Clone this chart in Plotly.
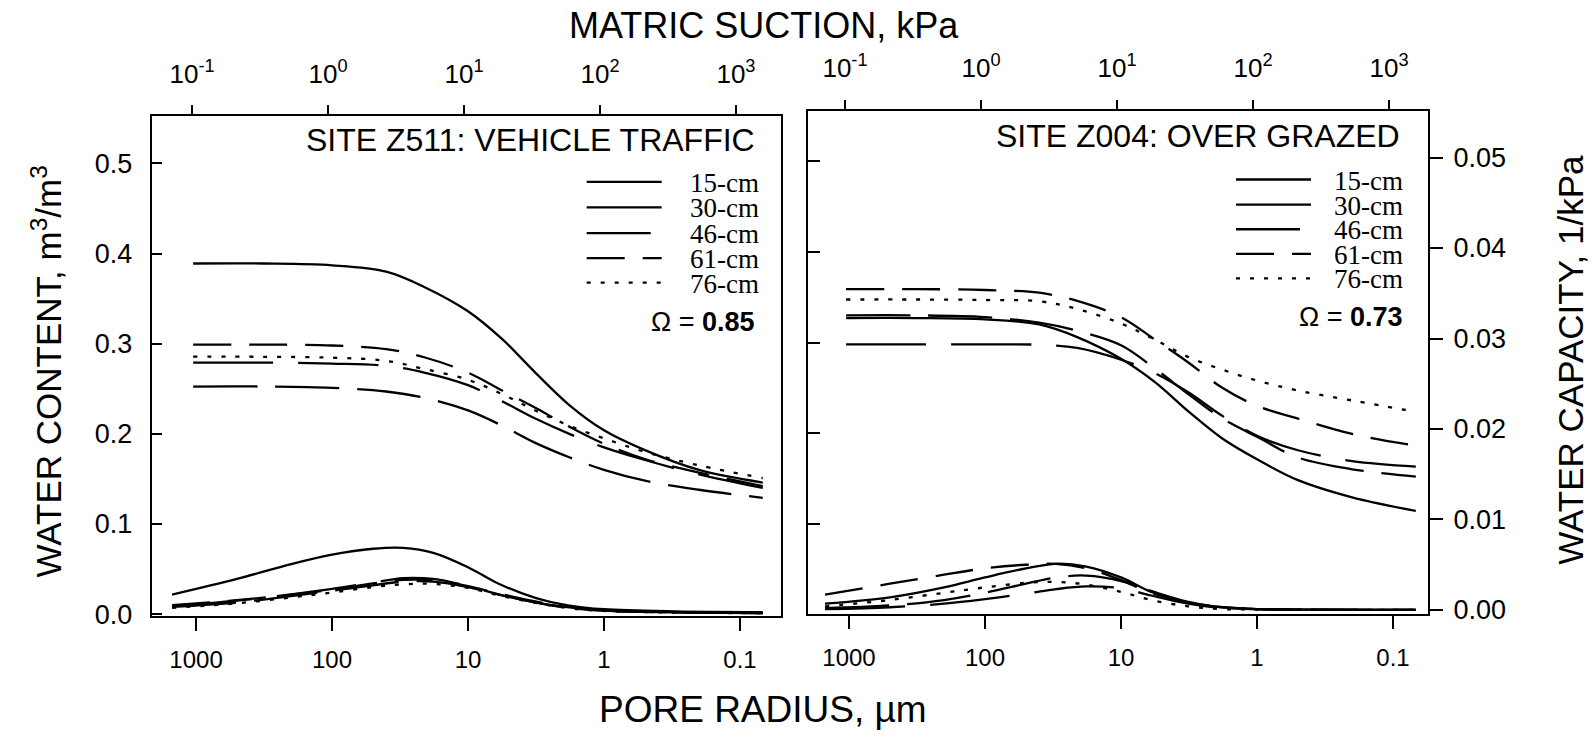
import plotly.graph_objects as go
import math

# ---------------- data ----------------
DEPTHS = ["15-cm", "30-cm", "46-cm", "61-cm", "76-cm"]

# pore radius (um) at which the retention curves were read
RADIUS_WC = [1050, 320, 100, 40, 21, 10, 5.6, 3.2, 1.8, 1.0, 0.5, 0.2, 0.068]
# pore radius (um) at which the water-capacity curves were read
RADIUS_CAP = [1500, 500, 200, 100, 50, 30, 18, 10, 6, 3.2, 1.8, 1.0, 0.3, 0.068]

# Site Z511 - water content (m3/m3)
Z511_WC_15 = [0.389, 0.389, 0.387, 0.380, 0.363, 0.336, 0.305, 0.268, 0.232, 0.204, 0.182, 0.160, 0.146]
Z511_WC_30 = [0.279, 0.279, 0.278, 0.2755, 0.268, 0.254, 0.236, 0.217, 0.200, 0.185, 0.171, 0.155, 0.140]
Z511_WC_46 = [0.2525, 0.2525, 0.251, 0.247, 0.240, 0.226, 0.209, 0.190, 0.174, 0.160, 0.148, 0.138, 0.129]
Z511_WC_61 = [0.299, 0.299, 0.298, 0.294, 0.285, 0.268, 0.248, 0.229, 0.208, 0.189, 0.172, 0.157, 0.142]
Z511_WC_76 = [0.2857, 0.2855, 0.2845, 0.281, 0.272, 0.260, 0.244, 0.226, 0.209, 0.195, 0.180, 0.165, 0.151]

# Site Z511 - water capacity (1/kPa)
Z511_CAP_15 = [0.00216, 0.0039, 0.00555, 0.0066, 0.00725, 0.00735, 0.0068, 0.0052, 0.0034, 0.0018, 0.00095, 0.00054, 0.0003, 0.00022]
Z511_CAP_30 = [0.0009, 0.0015, 0.0022, 0.0028, 0.0035, 0.0040, 0.0039, 0.0031, 0.0022, 0.0013, 0.0007, 0.0004, 0.0002, 0.00012]
Z511_CAP_46 = [0.0008, 0.0013, 0.0020, 0.0026, 0.0032, 0.0036, 0.0036, 0.0030, 0.0022, 0.0013, 0.0007, 0.0004, 0.0002, 0.00012]
Z511_CAP_61 = [0.0010, 0.00155, 0.00215, 0.0027, 0.0034, 0.0038, 0.00375, 0.0031, 0.0023, 0.0014, 0.00075, 0.0004, 0.0002, 0.00012]
Z511_CAP_76 = [0.0007, 0.0012, 0.00185, 0.0024, 0.0030, 0.0033, 0.00335, 0.0029, 0.0021, 0.00125, 0.00065, 0.00035, 0.00018, 0.0001]

# Site Z004 - water content (m3/m3)
Z004_WC_15 = [0.327, 0.327, 0.3255, 0.320, 0.306, 0.282, 0.256, 0.224, 0.194, 0.171, 0.148, 0.129, 0.114]
Z004_WC_30 = [0.298, 0.298, 0.298, 0.2975, 0.294, 0.281, 0.266, 0.245, 0.219, 0.197, 0.181, 0.169, 0.163]
Z004_WC_46 = [0.330, 0.330, 0.328, 0.322, 0.313, 0.297, 0.271, 0.243, 0.216, 0.196, 0.173, 0.160, 0.152]
Z004_WC_61 = [0.359, 0.359, 0.358, 0.355, 0.346, 0.328, 0.303, 0.278, 0.250, 0.230, 0.216, 0.199, 0.186]
Z004_WC_76 = [0.3475, 0.3475, 0.347, 0.3455, 0.337, 0.321, 0.303, 0.284, 0.270, 0.258, 0.247, 0.236, 0.2235]

# Site Z004 - water capacity (1/kPa)
Z004_CAP_15 = [0.0007, 0.0014, 0.0025, 0.0036, 0.0046, 0.0051, 0.0048, 0.0036, 0.0020, 0.0008, 0.0003, 0.0001, 0.00003, 0.0]
Z004_CAP_30 = [0.0001, 0.0003, 0.0007, 0.0012, 0.0018, 0.0023, 0.0026, 0.0024, 0.0016, 0.0007, 0.0002, 0.0001, 0.00002, 0.0]
Z004_CAP_46 = [0.0002, 0.0005, 0.0011, 0.0019, 0.0029, 0.0036, 0.0038, 0.0032, 0.0021, 0.0009, 0.0003, 0.0001, 0.00003, 0.0]
Z004_CAP_61 = [0.0017, 0.0029, 0.0039, 0.0046, 0.0050, 0.0051, 0.0046, 0.0033, 0.0019, 0.0008, 0.0003, 0.0001, 0.00003, 0.0]
Z004_CAP_76 = [0.0004, 0.0011, 0.0019, 0.0025, 0.0030, 0.0031, 0.0028, 0.0020, 0.0011, 0.0004, 0.0001, 0.00005, 0.00002, 0.0]

RADIUS_TICKS = [1000, 100, 10, 1, 0.1]
RADIUS_TICKTEXT = ["1000", "100", "10", "1", "0.1"]
SUCTION_TICKS = [0.1, 1, 10, 100, 1000]
SUCTION_TICKTEXT = ["10<sup>-1</sup>", "10<sup>0</sup>", "10<sup>1</sup>", "10<sup>2</sup>", "10<sup>3</sup>"]
WC_TICKS = [0.0, 0.1, 0.2, 0.3, 0.4, 0.5]
WC_TICKTEXT = ["0.0", "0.1", "0.2", "0.3", "0.4", "0.5"]
CAP_TICKS = [0.0, 0.01, 0.02, 0.03, 0.04, 0.05]
CAP_TICKTEXT = ["0.00", "0.01", "0.02", "0.03", "0.04", "0.05"]

SITE_TITLES = ["SITE Z511: VEHICLE TRAFFIC", "SITE Z004: OVER GRAZED"]
OMEGA_TEXT = ["\u03a9 = <b>0.85</b>", "\u03a9 = <b>0.73</b>"]

# ---------------- styling ----------------
W, H = 1593, 748
SUCTION_FACTOR = 107.0  # radius(um) * suction(kPa)
SANS = "Liberation Sans, Arial, Helvetica, sans-serif"
SERIF = "Liberation Serif, Times New Roman, serif"
DASH = {"15-cm": "solid", "30-cm": "80px,25px", "46-cm": "64px,18px",
        "61-cm": "38px,18px", "76-cm": "4px,10px"}
LW = 2.3


def px(x):
    return x / W


def py(y):
    return 1 - y / H


fig = go.Figure()

left_wc = [Z511_WC_15, Z511_WC_30, Z511_WC_46, Z511_WC_61, Z511_WC_76]
left_cap = [Z511_CAP_15, Z511_CAP_30, Z511_CAP_46, Z511_CAP_61, Z511_CAP_76]
right_wc = [Z004_WC_15, Z004_WC_30, Z004_WC_46, Z004_WC_61, Z004_WC_76]
right_cap = [Z004_CAP_15, Z004_CAP_30, Z004_CAP_46, Z004_CAP_61, Z004_CAP_76]


def add_set(xs, sets, xa, ya):
    for d, yv in zip(DEPTHS, sets):
        fig.add_trace(go.Scatter(x=xs, y=yv, xaxis=xa, yaxis=ya, mode="lines",
                                 line=dict(color="black", width=LW, dash=DASH[d],
                                           shape="spline", smoothing=1.0),
                                 showlegend=False, name=d))


add_set(RADIUS_WC, left_wc, "x", "y")
add_set(RADIUS_CAP, left_cap, "x", "y2")
add_set(RADIUS_WC, right_wc, "x3", "y3")
add_set(RADIUS_CAP, right_cap, "x3", "y4")

# invisible traces so the top (suction) axes are attached to subplots
fig.add_trace(go.Scatter(x=SUCTION_TICKS, y=[None] * 5, xaxis="x2", yaxis="y", mode="lines",
                         showlegend=False, hoverinfo="skip"))
fig.add_trace(go.Scatter(x=SUCTION_TICKS, y=[None] * 5, xaxis="x4", yaxis="y3", mode="lines",
                         showlegend=False, hoverinfo="skip"))

# panel geometry (pixels)
L_X0, L_X1, L_Y0, L_Y1 = 151.7, 780.5, 118.0, 627.0
R_X0, R_X1, R_Y0, R_Y1 = 807.5, 1428.0, 112.7, 625.0
L_XR = [3.326, -1.298]
R_XR = [3.305, -1.257]
L_YR = [-0.0022, 0.5527]
R_YR = [0.0, 0.556]
R_CAPR = [-0.00046, 0.05517]

lf = math.log10(SUCTION_FACTOR)

tickfont_bot = dict(family=SANS, size=24, color="black")
tickfont_top = dict(family=SANS, size=26, color="black")
tickfont_y = dict(family=SANS, size=27, color="black")

common = dict(showgrid=False, zeroline=False, linecolor="black", linewidth=2,
              tickcolor="black", tickwidth=2)

fig.update_layout(
    width=W, height=H, autosize=False,
    margin=dict(l=0, r=0, t=0, b=0),
    paper_bgcolor="white", plot_bgcolor="rgba(0,0,0,0)",
    showlegend=False,
    xaxis=dict(type="log", domain=[px(L_X0), px(L_X1)], range=L_XR, anchor="y",
               tickvals=RADIUS_TICKS, ticktext=RADIUS_TICKTEXT, ticks="outside", ticklen=13,
               showline=True, tickfont=tickfont_bot, ticklabelstandoff=8, **common),
    xaxis2=dict(type="log", overlaying="x", side="top", anchor="y",
                range=[lf - L_XR[0], lf - L_XR[1]],
                tickvals=SUCTION_TICKS, ticktext=SUCTION_TICKTEXT, ticks="outside", ticklen=9,
                showline=True, tickfont=tickfont_top, ticklabelstandoff=12, **common),
    yaxis=dict(domain=[py(L_Y1), py(L_Y0)], range=L_YR, anchor="x",
               tickvals=WC_TICKS, ticktext=WC_TICKTEXT, ticks="inside", ticklen=10,
               showline=True, mirror=True, tickfont=tickfont_y, ticklabelstandoff=12, **common),
    yaxis2=dict(overlaying="y", range=[L_YR[0] / 10, L_YR[1] / 10], visible=False),
    xaxis3=dict(type="log", domain=[px(R_X0), px(R_X1)], range=R_XR, anchor="y3",
                tickvals=RADIUS_TICKS, ticktext=RADIUS_TICKTEXT, ticks="outside", ticklen=13,
                showline=True, tickfont=tickfont_bot, ticklabelstandoff=8, **common),
    xaxis4=dict(type="log", overlaying="x3", side="top", anchor="y3",
                range=[lf - R_XR[0], lf - R_XR[1]],
                tickvals=SUCTION_TICKS, ticktext=SUCTION_TICKTEXT, ticks="outside", ticklen=9,
                showline=True, tickfont=tickfont_top, ticklabelstandoff=12, **common),
    yaxis3=dict(domain=[py(R_Y1), py(R_Y0)], range=R_YR, anchor="x3",
                tickvals=WC_TICKS[1:], ticks="inside", ticklen=12, showticklabels=False,
                showline=True, **common),
    yaxis4=dict(overlaying="y3", side="right", anchor="x3", range=R_CAPR,
                tickvals=CAP_TICKS, ticktext=CAP_TICKTEXT, ticks="outside", ticklen=13,
                showline=True, tickfont=tickfont_y, ticklabelstandoff=5, **common),
)

ann = []
# axis titles
ann.append(dict(text="MATRIC SUCTION, kPa", x=px(764), y=py(26), xref="paper", yref="paper",
                showarrow=False, xanchor="center", yanchor="middle",
                font=dict(family=SANS, size=36, color="black")))
ann.append(dict(text="PORE RADIUS, \u00b5m", x=px(763), y=py(722), xref="paper", yref="paper",
                showarrow=False, xanchor="center", yanchor="middle",
                font=dict(family=SANS, size=37, color="black")))
ann.append(dict(text="WATER CONTENT, m<sup>3</sup>/m<sup>3</sup>", x=px(47), y=py(378),
                xref="paper", yref="paper", showarrow=False, textangle=-90,
                xanchor="center", yanchor="middle",
                font=dict(family=SANS, size=35, color="black")))
ann.append(dict(text="WATER CAPACITY, 1/kPa", x=px(1571), y=py(366),
                xref="paper", yref="paper", showarrow=False, textangle=-90,
                xanchor="center", yanchor="middle",
                font=dict(family=SANS, size=35, color="black")))

# site titles and omega labels
site_pos = [(757, 142.7), (1402, 138)]
omega_pos = [(757, 328), (1405, 323)]
for t, (x, y) in zip(SITE_TITLES, site_pos):
    ann.append(dict(text=t, x=px(x), y=py(y), xref="paper", yref="paper", showarrow=False,
                    xanchor="right", yanchor="middle",
                    font=dict(family=SANS, size=32, color="black")))
for t, (x, y) in zip(OMEGA_TEXT, omega_pos):
    ann.append(dict(text=t, x=px(x), y=py(y), xref="paper", yref="paper", showarrow=False,
                    xanchor="right", yanchor="middle",
                    font=dict(family=SANS, size=27, color="black")))

# manual legends
shapes = []
leg_specs = [
    dict(x0=586.7, x1=661.7, xt=688.3, rows=[185, 211, 237.3, 262.7, 287.7]),
    dict(x0=1236, x1=1311, xt=1332, rows=[182.7, 208.3, 233.3, 258.3, 283.3]),
]
for spec in leg_specs:
    for d, ry in zip(DEPTHS, spec["rows"]):
        shapes.append(dict(type="line", xref="paper", yref="paper",
                           x0=px(spec["x0"]), x1=px(spec["x1"]), y0=py(ry), y1=py(ry),
                           line=dict(color="black", width=LW, dash=DASH[d])))
        ann.append(dict(text=d, x=px(spec["xt"]), y=py(ry + 1), xref="paper", yref="paper",
                        showarrow=False, xanchor="left", yanchor="middle",
                        font=dict(family=SERIF, size=27, color="black")))

fig.update_layout(annotations=ann, shapes=shapes)

fig.write_html("out.html")
